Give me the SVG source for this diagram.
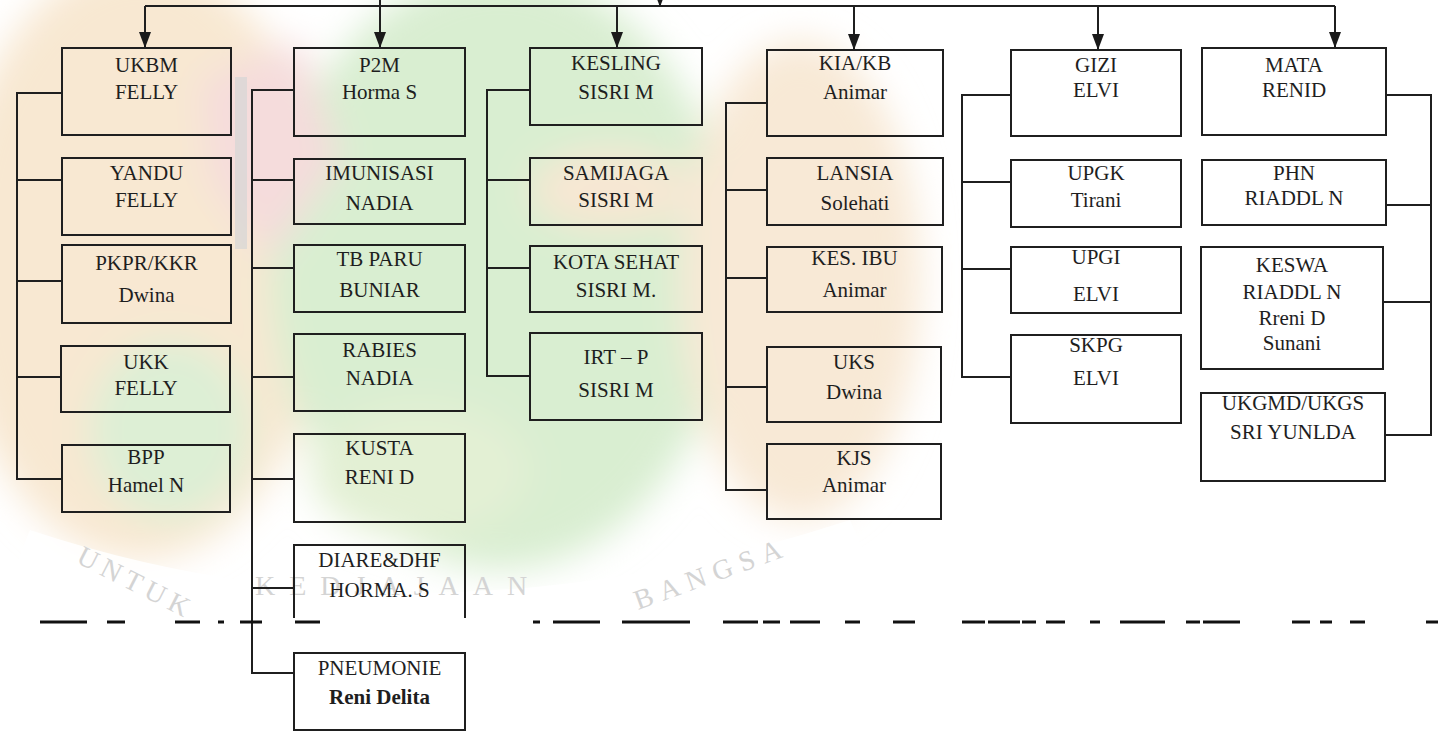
<svg xmlns="http://www.w3.org/2000/svg" width="1438" height="738" viewBox="0 0 1438 738">
<defs>
<marker id="arr" markerUnits="userSpaceOnUse" markerWidth="16" markerHeight="12" refX="16" refY="6" orient="auto" viewBox="0 0 16 12">
<path d="M0,0 L16,6 L0,12 z" fill="#1a1a1a"/>
</marker>
<filter id="blur" x="-20%" y="-20%" width="140%" height="140%"><feGaussianBlur stdDeviation="18"/></filter>
</defs>
<style>
.box{fill:none;stroke:#1f1f1f;stroke-width:2}
.t{font-family:"Liberation Serif","Times New Roman",serif;font-size:21px;fill:#1e1e1e;text-anchor:middle}
.b{font-weight:bold}
.con{fill:none;stroke:#1f1f1f;stroke-width:2}
.wm{font-family:"Liberation Serif",serif;font-size:28px;fill:#d4d4d4}
</style>
<rect width="1438" height="738" fill="#ffffff"/>
<g id="watermark">
<g filter="url(#blur)">
<ellipse cx="140" cy="260" rx="190" ry="300" fill="#f8e8d2"/>
<ellipse cx="500" cy="270" rx="230" ry="300" fill="#d9eed1"/>
<ellipse cx="800" cy="280" rx="120" ry="240" fill="#f8e9d6"/>
<ellipse cx="610" cy="190" rx="80" ry="40" fill="#f7e7d3"/>
<path d="M200,80 L300,40 L340,160 L270,260 L210,180 z" fill="#f5dcdc"/>
<ellipse cx="170" cy="430" rx="80" ry="90" fill="#ddefd5"/>
<ellipse cx="420" cy="470" rx="110" ry="70" fill="#e3f0d4"/>
</g>
<path d="M30,530 Q420,660 850,520 L870,565 Q420,705 10,580 z" fill="#ffffff" opacity="0.85"/>
<text class="wm" transform="translate(75,562) rotate(27)" letter-spacing="6">UNTUK</text>
<text class="wm" x="255" y="595" letter-spacing="14">KEDJAJAAN</text>
<text class="wm" transform="translate(638,610) rotate(-20)" letter-spacing="8">BANGSA</text>
<rect x="235" y="77" width="12" height="172" fill="#d5d5d5" opacity="0.7"/>
</g>
<g id="connectors">
<path class="con" d="M145,6 H1335"/>
<path class="con" d="M660,-20 V7" marker-end="url(#arr)"/>
<path class="con" d="M145,6 V48" marker-end="url(#arr)"/>
<path class="con" d="M380,0 V48" marker-end="url(#arr)"/>
<path class="con" d="M617,6 V48" marker-end="url(#arr)"/>
<path class="con" d="M854,6 V50" marker-end="url(#arr)"/>
<path class="con" d="M1098,6 V50" marker-end="url(#arr)"/>
<path class="con" d="M1335,6 V48" marker-end="url(#arr)"/>
<path class="con" d="M62,93 H17 V479 H62 M17,180 H62 M17,281 H62 M17,377 H61"/>
<path class="con" d="M294,90 H252 V673 H294 M252,180 H294 M252,268 H294 M252,377 H294 M252,479 H294 M252,588 H294"/>
<path class="con" d="M530,90 H487 V376 H530 M487,180 H530 M487,268 H530"/>
<path class="con" d="M767,103 H726 V490 H767 M726,190 H767 M726,278 H767 M726,387 H767"/>
<path class="con" d="M1011,95 H962 V377 H1011 M962,182 H1011 M962,269 H1011"/>
<path class="con" d="M1386,95 H1431 V435 H1385 M1431,205 H1386 M1431,302 H1383"/>
</g>
<g id="pagebreak">
<path d="M40,622 H87 M107,622 H125 M175,622 H200 M218,622 H224 M240,622 H262 M295,622 H320 M533,622 H540 M553,622 H600 M622,622 H690 M723,622 H758 M763,622 H780 M790,622 H820 M845,622 H860 M893,622 H915 M962,622 H985 M988,622 H1020 M1022,622 H1036 M1046,622 H1065 M1090,622 H1100 M1120,622 H1165 M1186,622 H1200 M1203,622 H1240 M1292,622 H1310 M1320,622 H1332 M1350,622 H1365 M1426,622 H1438" fill="none" stroke="#111" stroke-width="3"/>
</g>
<g id="n-ukbm"><rect class="box" x="62" y="48" width="169" height="87"/><text class="t" x="146.5" y="72">UKBM</text><text class="t" x="146.5" y="99">FELLY</text></g>
<g id="n-yandu"><rect class="box" x="62" y="158" width="169" height="77"/><text class="t" x="146.5" y="180">YANDU</text><text class="t" x="146.5" y="207">FELLY</text></g>
<g id="n-pkpr"><rect class="box" x="62" y="245" width="169" height="78"/><text class="t" x="146.5" y="270">PKPR/KKR</text><text class="t" x="146.5" y="302">Dwina</text></g>
<g id="n-ukk"><rect class="box" x="61" y="346" width="169" height="66"/><text class="t" x="146" y="369">UKK</text><text class="t" x="146" y="395">FELLY</text></g>
<g id="n-bpp"><rect class="box" x="62" y="445" width="168" height="67"/><text class="t" x="146" y="464">BPP</text><text class="t" x="146" y="492">Hamel N</text></g>
<g id="n-p2m"><rect class="box" x="294" y="48" width="171" height="88"/><text class="t" x="379.5" y="72">P2M</text><text class="t" x="379.5" y="99">Horma S</text></g>
<g id="n-imunisasi"><rect class="box" x="294" y="159" width="171" height="65"/><text class="t" x="379.5" y="180">IMUNISASI</text><text class="t" x="379.5" y="210">NADIA</text></g>
<g id="n-tbparu"><rect class="box" x="294" y="245" width="171" height="67"/><text class="t" x="379.5" y="266">TB PARU</text><text class="t" x="379.5" y="297">BUNIAR</text></g>
<g id="n-rabies"><rect class="box" x="294" y="334" width="171" height="77"/><text class="t" x="379.5" y="357">RABIES</text><text class="t" x="379.5" y="385">NADIA</text></g>
<g id="n-kusta"><rect class="box" x="294" y="434" width="171" height="88"/><text class="t" x="379.5" y="455">KUSTA</text><text class="t" x="379.5" y="484">RENI D</text></g>
<g id="n-diare"><path class="box" d="M294,618 V545 H465 V618"/><text class="t" x="379.5" y="567">DIARE&amp;DHF</text><text class="t" x="379.5" y="597">HORMA. S</text></g>
<g id="n-pneumonie"><rect class="box" x="294" y="653" width="171" height="77"/><text class="t" x="379.5" y="675">PNEUMONIE</text><text class="t b" x="379.5" y="704" font-size="20">Reni Delita</text></g>
<g id="n-kesling"><rect class="box" x="530" y="48" width="172" height="77"/><text class="t" x="616" y="70">KESLING</text><text class="t" x="616" y="99">SISRI M</text></g>
<g id="n-samijaga"><rect class="box" x="530" y="158" width="172" height="67"/><text class="t" x="616" y="180">SAMIJAGA</text><text class="t" x="616" y="207">SISRI M</text></g>
<g id="n-kotasehat"><rect class="box" x="530" y="246" width="172" height="66"/><text class="t" x="616" y="269">KOTA SEHAT</text><text class="t" x="616" y="297">SISRI M.</text></g>
<g id="n-irtp"><rect class="box" x="530" y="333" width="172" height="87"/><text class="t" x="616" y="364" font-size="24">IRT – P</text><text class="t" x="616" y="397" font-size="24">SISRI M</text></g>
<g id="n-kiakb"><rect class="box" x="767" y="50" width="176" height="86"/><text class="t" x="855" y="70">KIA/KB</text><text class="t" x="855" y="99">Animar</text></g>
<g id="n-lansia"><rect class="box" x="767" y="158" width="176" height="67"/><text class="t" x="855" y="180">LANSIA</text><text class="t" x="855" y="210">Solehati</text></g>
<g id="n-kesibu"><rect class="box" x="767" y="247" width="175" height="65"/><text class="t" x="854.5" y="265">KES. IBU</text><text class="t" x="854.5" y="297">Animar</text></g>
<g id="n-uks"><rect class="box" x="767" y="347" width="174" height="75"/><text class="t" x="854" y="369">UKS</text><text class="t" x="854" y="399">Dwina</text></g>
<g id="n-kjs"><rect class="box" x="767" y="444" width="174" height="75"/><text class="t" x="854" y="465">KJS</text><text class="t" x="854" y="492">Animar</text></g>
<g id="n-gizi"><rect class="box" x="1011" y="50" width="170" height="86"/><text class="t" x="1096" y="72">GIZI</text><text class="t" x="1096" y="97">ELVI</text></g>
<g id="n-upgk"><rect class="box" x="1011" y="160" width="170" height="67"/><text class="t" x="1096" y="180">UPGK</text><text class="t" x="1096" y="207">Tirani</text></g>
<g id="n-upgi"><rect class="box" x="1011" y="247" width="170" height="66"/><text class="t" x="1096" y="264">UPGI</text><text class="t" x="1096" y="301">ELVI</text></g>
<g id="n-skpg"><rect class="box" x="1011" y="335" width="170" height="88"/><text class="t" x="1096" y="352">SKPG</text><text class="t" x="1096" y="385">ELVI</text></g>
<g id="n-mata"><rect class="box" x="1202" y="48" width="184" height="87"/><text class="t" x="1294" y="72">MATA</text><text class="t" x="1294" y="97">RENID</text></g>
<g id="n-phn"><rect class="box" x="1202" y="160" width="184" height="65"/><text class="t" x="1294" y="180">PHN</text><text class="t" x="1294" y="205">RIADDL N</text></g>
<g id="n-keswa"><rect class="box" x="1201" y="247" width="182" height="122"/><text class="t" x="1292" y="272">KESWA</text><text class="t" x="1292" y="299">RIADDL N</text><text class="t" x="1292" y="325">Rreni D</text><text class="t" x="1292" y="350">Sunani</text></g>
<g id="n-ukgmd"><rect class="box" x="1201" y="393" width="184" height="88"/><text class="t" x="1293" y="410">UKGMD/UKGS</text><text class="t" x="1293" y="439">SRI YUNLDA</text></g>
</svg>
